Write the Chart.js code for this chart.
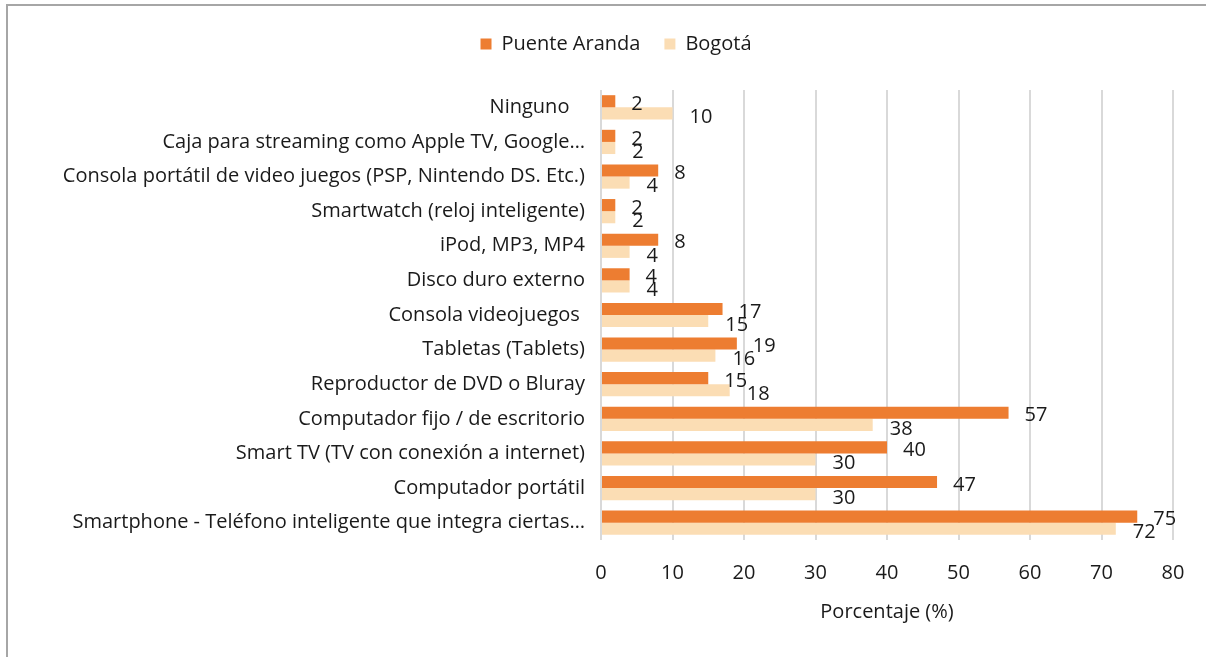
<!DOCTYPE html>
<html>
<head>
<meta charset="utf-8">
<script src="https://cdn.jsdelivr.net/npm/chart.js@4/dist/chart.umd.min.js"></script>
<style>
  html, body { margin: 0; padding: 0; background: #fff; overflow: hidden; }
  #frame { position: absolute; left: 6px; top: 4px; width: 1260px; height: 720px; border: 2px solid #a6a6a6; box-sizing: border-box; }
  #wrap { position: absolute; left: 0; top: 0; width: 1206px; height: 657px; }
</style>
</head>
<body>
<div id="frame"></div>
<div id="wrap"><canvas id="devicesChart" width="1206" height="657"></canvas></div>
<script>
const categories = [
  "Ninguno   ",
  "Caja para streaming como Apple TV, Google…",
  "Consola portátil de video juegos (PSP, Nintendo DS. Etc.)",
  "Smartwatch (reloj inteligente)",
  "iPod, MP3, MP4",
  "Disco duro externo",
  "Consola videojuegos ",
  "Tabletas (Tablets)",
  "Reproductor de DVD o Bluray",
  "Computador fijo / de escritorio",
  "Smart TV (TV con conexión a internet)",
  "Computador portátil",
  "Smartphone - Teléfono inteligente que integra ciertas…"
]
const puenteAranda = [2, 2, 8, 2, 8, 4, 17, 19, 15, 57, 40, 47, 75]
const bogota = [10, 2, 4, 2, 4, 4, 15, 16, 18, 38, 30, 30, 72]
const xTicks = [0, 10, 20, 30, 40, 50, 60, 70, 80]

const FONT = "'Open Sans', 'Noto Sans', sans-serif"
Chart.defaults.font.family = FONT
Chart.defaults.color = "#1a1a1a"

const valueLabels = {
  id: "valueLabels",
  afterDatasetsDraw(chart) {
    const ctx = chart.ctx
    ctx.save()
    ctx.font = "20px " + FONT
    ctx.fillStyle = "#1a1a1a"
    ctx.textAlign = "left"
    ctx.textBaseline = "middle"
    chart.data.datasets.forEach((ds, di) => {
      const meta = chart.getDatasetMeta(di)
      meta.data.forEach((bar, i) => {
        const dx = di === 0 ? 16 : 17
        const dy = di === 0 ? 3 : 4
        ctx.fillText(String(ds.data[i]), bar.x + dx, bar.y + dy)
      })
    })
    ctx.restore()
  }
}

const legendGap = {
  id: "legendGap",
  beforeInit(chart) {
    const fit = chart.legend.fit
    chart.legend.fit = function () {
      fit.bind(chart.legend)()
      this.height += 26
    }
  }
}

const canvas = document.getElementById("devicesChart")

new Chart(canvas, {
  type: "bar",
  data: {
    labels: categories,
    datasets: [
      {
        label: "Puente Aranda",
        data: puenteAranda,
        backgroundColor: "#ED7D31",
        categoryPercentage: 0.7,
        barPercentage: 1.0
      },
      {
        label: "Bogotá",
        data: bogota,
        backgroundColor: "#FBDDB4",
        categoryPercentage: 0.7,
        barPercentage: 1.0
      }
    ]
  },
  options: {
    indexAxis: "y",
    responsive: false,
    animation: false,
    devicePixelRatio: 1,
    layout: {
      padding: { top: 10, left: 59, right: 33, bottom: 33 }
    },
    plugins: {
      legend: {
        position: "top",
        labels: {
          boxWidth: 11,
          boxHeight: 11,
          padding: 24,
          font: { size: 20 },
          color: "#1a1a1a"
        }
      },
      tooltip: { enabled: false }
    },
    scales: {
      x: {
        min: 0,
        max: 80,
        afterBuildTicks(axis) {
          axis.ticks = xTicks.map((v) => ({ value: v }))
        },
        afterFit(axis) {
          axis.height = 84
        },
        grid: {
          color: "#d9d9d9",
          lineWidth: 2,
          drawTicks: false
        },
        border: { display: false },
        ticks: {
          padding: 21,
          font: { size: 20 },
          color: "#1a1a1a"
        },
        title: {
          display: true,
          text: "Porcentaje (%)",
          font: { size: 20 },
          color: "#1a1a1a",
          padding: { top: 0, bottom: 0 }
        }
      },
      y: {
        afterFit(axis) {
          axis.width = 542
        },
        grid: { display: false },
        border: { display: false },
        ticks: {
          padding: 8,
          autoSkip: false,
          font: { size: 20 },
          color: "#1a1a1a"
        }
      }
    }
  },
  plugins: [valueLabels, legendGap]
})
</script>
</body>
</html>
